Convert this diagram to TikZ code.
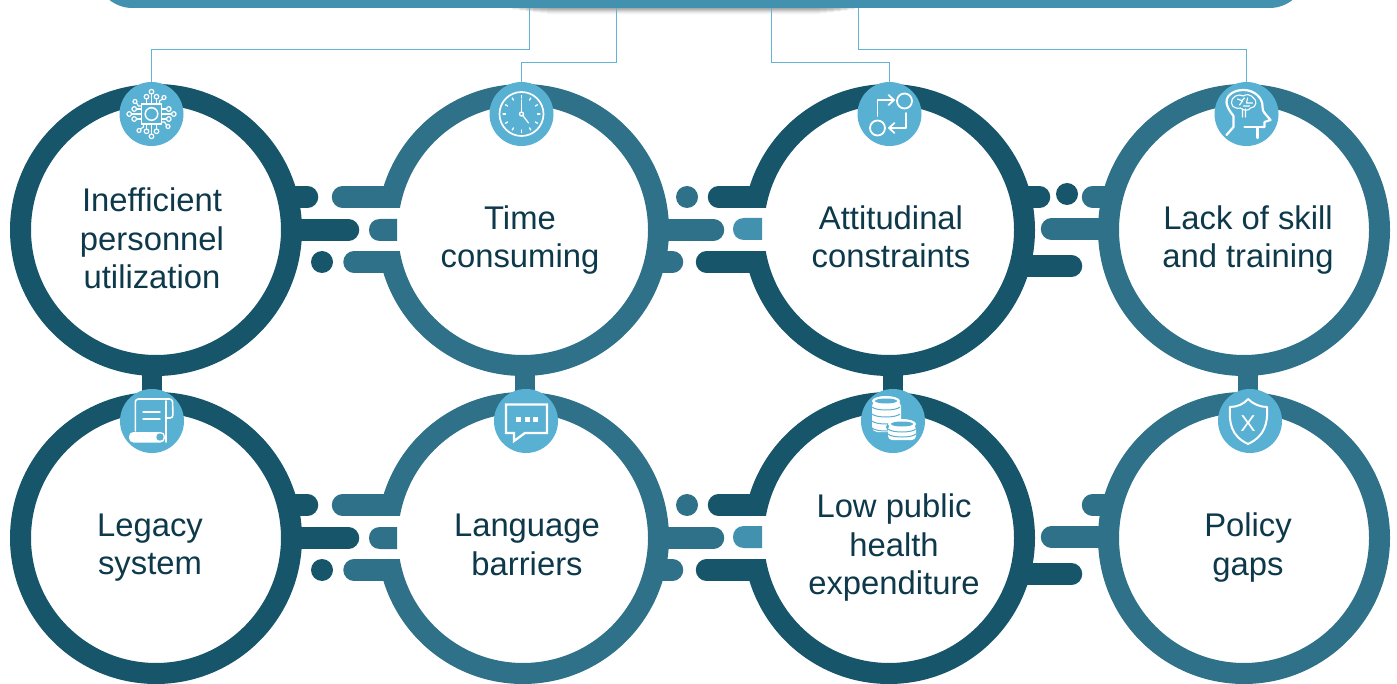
\documentclass[tikz,border=0pt]{standalone}
\usepackage{fontspec}
\setmainfont{Liberation Sans}
\usetikzlibrary{calc,backgrounds,arrows.meta}
\definecolor{dk}{HTML}{17556A}
\definecolor{md}{HTML}{2E7189}
\definecolor{lt}{HTML}{4291AE}
\definecolor{ic}{HTML}{58B0D3}
\definecolor{tx}{HTML}{0D394B}
\definecolor{cn}{HTML}{62B4D4}
\tikzset{
 ring/.style={circle,draw=#1,fill=white,line width=21pt,minimum size=271pt,inner sep=0pt,outer sep=0pt},
 icn/.style={circle,fill=ic,minimum size=64pt,inner sep=0pt,outer sep=0pt},
 lab/.style={text=tx,align=center,inner sep=0pt,font=\fontsize{32.8}{38.5}\selectfont},
 stub/.style={line width=21.5pt,line cap=round,draw=#1},
 vbar/.style={line width=20pt,draw=#1},
 conn/.style={draw=cn,line width=1pt},
 wl/.style={draw=white,line width=1.3pt,line cap=round,line join=round},
}
\begin{document}
\begin{tikzpicture}[x=1pt,y=-1pt]
\useasboundingbox (0,0) rectangle (1397,684);
% top bar
\begin{pgfonlayer}{background}
\foreach \i/\o in {0/.10,1/.09,2/.08,3/.06,4/.04,5/.03}{
  \fill[black,opacity=\o,rounded corners=2pt] ({512+7*\i},8) rectangle ({855-7*\i},{9.5+\i});
}
\end{pgfonlayer}
\node[fill=lt,rounded corners=37pt,minimum width=1211pt,minimum height=80pt,inner sep=0pt] (bar) at (701,-32) {};
\foreach \n/\x in {b1/529,b2/616,b3/771,b4/858}{\coordinate (\n) at (\x,8);}
% rings
\node[ring=dk] (c1) at (156,230) {};
\node[ring=md] (c2) at (523,230) {};
\node[ring=dk] (c3) at (889,230) {};
\node[ring=md] (c4) at (1244,230) {};
\node[ring=dk] (c5) at (156,538) {};
\node[ring=md] (c6) at (523,538) {};
\node[ring=dk] (c7) at (889,538) {};
\node[ring=md] (c8) at (1244,538) {};
% stubs, drawn behind the rings
\begin{pgfonlayer}{background}
 \foreach \a/\b/\cc/\s in {c1/c5/dk/-4,c2/c6/md/2,c3/c7/dk/4,c4/c8/md/4}{
   \draw[vbar=\cc] ($(\a)+(\s,0)$) -- ($(\b)+(\s,0)$);
 }
 \foreach \a/\bb/\cc/\dd in {c1/c2/c3/c4,c5/c6/c7/c8}{
   % first gap
   \draw[stub=dk] ($(\a)+(100,-33)$) -- ($(\a)+(151.5,-33)$);
   \draw[stub=dk] ($(\a)+(100,0)$) -- ($(\a)+(192.5,0)$);
   \draw[stub=md] ($(\bb)+(-110,-33)$) -- ($(\bb)+(-180.5,-33)$);
   \draw[stub=md] ($(\bb)+(-110,32)$) -- ($(\bb)+(-169,32)$);
   % second gap
   \draw[stub=md] ($(\bb)+(100,0)$) -- ($(\bb)+(190.5,0)$);
   \draw[stub=md] ($(\bb)+(100,32)$) -- ($(\bb)+(149.5,32)$);
   \draw[stub=dk] ($(\cc)+(-110,-33)$) -- ($(\cc)+(-170.5,-33)$);
   \draw[stub=dk] ($(\cc)+(-110,32)$) -- ($(\cc)+(-182.5,32)$);
   % third gap
   \draw[stub=dk] ($(\cc)+(100,36)$) -- ($(\cc)+(182.5,36)$);
   \draw[stub=md] ($(\dd)+(-110,-33)$) -- ($(\dd)+(-151.5,-33)$);
   \draw[stub=md] ($(\dd)+(-110,-1)$) -- ($(\dd)+(-192.5,-1)$);
 }
 \draw[stub=dk] ($(c3)+(100,-33)$) -- ($(c3)+(150.5,-33)$);
\end{pgfonlayer}
% breaks in the rings, free dots and D-shaped pieces
\foreach \y in {0,308}{
 \fill[white] (361,207.75+\y) rectangle (405,251.25+\y);
 \fill[white] (726,207.75+\y) rectangle (770,251.25+\y);
 \fill[dk] (322,262+\y) circle[radius=11];
 \fill[md] (687,197+\y) circle[radius=11];
 \fill[md] (397,219+\y) -- (380,219+\y) .. controls (373,219+\y) and (369,224+\y) .. (369,230+\y)
   .. controls (369,236+\y) and (373,241+\y) .. (380,241+\y) -- (397,241+\y) -- cycle;
 \fill[lt] (762,218+\y) -- (744,218+\y) .. controls (737,218+\y) and (733,223+\y) .. (733,229+\y)
   .. controls (733,235+\y) and (737,240+\y) .. (744,240+\y) -- (762,240+\y) -- cycle;
}
\fill[dk] (1067,194) circle[radius=11];
% labels
\node[lab] (t1) at (152,238.5) {Inefficient\\personnel\\utilization};
\node[lab] (t2) at (520,240) {Time\\consuming};
\node[lab] (t3) at (891,237) {Attitudinal\\constraints};
\node[lab] (t4) at (1248,240) {Lack of skill\\and training};
\node[lab] (t5) at (150,547.5) {Legacy\\system};
\node[lab] (t6) at (527,545) {Language\\barriers};
\node[lab] (t7) at (894,548) {Low public\\health\\expenditure};
\node[lab] (t8) at (1248,547.5) {Policy\\gaps};
% icon discs
\node[icn] (i1) at (151.5,114) {};
\node[icn] (i2) at (521.5,114) {};
\node[icn] (i3) at (889.5,114) {};
\node[icn] (i4) at (1246.5,114) {};
\node[icn] (i5) at (152,421) {};
\node[icn] (i6) at (526,421) {};
\node[icn] (i7) at (893,421) {};
\node[icn] (i8) at (1250,421) {};
% connectors
\draw[conn] (b1) -- ++(0,41.3) -| (i1);
\draw[conn] (b2) -- ++(0,54.7) -| (i2);
\draw[conn] (b3) -- ++(0,54.7) -| (i3);
\draw[conn] (b4) -- ++(0,41.3) -| (i4);
% chip
\begin{scope}[shift={(i1)},wl,line width=1.2pt]
 \draw[line width=1.5pt] (-10,-10) rectangle (10,10);
 \draw[line width=1.5pt] (0,0) circle[radius=6.3];
 \foreach \a in {0,90,180,270}{
  \begin{scope}[rotate=\a]
   \draw (0,-10) -- (0,-20); \draw (0,-22.3) circle[radius=2.3];
   \draw (-5,-10) -- (-5,-15); \draw (-5,-17.3) circle[radius=2.3];
   \draw (5,-10) -- (5,-15); \draw (5,-17.3) circle[radius=2.3];
   \draw (8,-10) -- (8,-13) -- (11,-15); \draw (12.5,-16.5) circle[radius=2];
  \end{scope}
 }
\end{scope}
% clock
\begin{scope}[shift={(i2)},wl]
 \draw[line width=1.7pt] (0,0) circle[radius=22];
 \foreach \a in {0,30,...,330}{\draw ($(\a:16)$) -- ($(\a:18.5)$);}
 \draw (0,0) circle[radius=2];
 \draw (0,-2) -- (0,-14);
 \draw (1.3,1.5) -- (7,9);
\end{scope}
% flow
\begin{scope}[shift={(i3)},wl,line width=1.8pt]
 \draw (15,-13) circle[radius=7.5];
 \draw (-12,14) circle[radius=7.5];
 \draw (-12,2) -- (-12,-14) -- (4,-14);
 \draw (-1,-19) -- (4.5,-14) -- (-1,-9);
 \draw (16.5,-1) -- (16.5,14) -- (0,14);
 \draw (5,9) -- (-0.5,14) -- (5,19);
\end{scope}
% head
\begin{scope}[shift={(i4)},wl,line width=2.2pt]
 \draw (-20,21) -- (-13,13) -- (-13,2) .. controls (-17,-3) and (-20,-8) .. (-20,-12)
   .. controls (-20,-20) and (-11,-24) .. (-3,-24)
   .. controls (8,-24) and (16,-16) .. (16,-8)
   .. controls (16,-4) and (17,-2) .. (18,-1) -- (24,6) -- (18,8) -- (18,13) -- (15,13);
 \draw (-2,13) -- (15,13) (11,13) -- (11,24);
 \draw[line width=1.1pt] (-3,-18) .. controls (-8,-21) and (-16,-17) .. (-15,-11)
   .. controls (-15,-6) and (-8,-5) .. (-6,-6)
   .. controls (-3,-3) and (2,-3) .. (4,-6)
   .. controls (10,-6) and (11,-14) .. (7,-16)
   .. controls (4,-20) and (-1,-20) .. (-3,-18);
 \draw[line width=1.1pt] (-9,-15) -- (-4,-13) -- (-7,-9) (1,-16) -- (0,-11) -- (6,-11) (-5,-13) -- (-2,-16) (3,-8) -- (-3,-8) (-4,-5) -- (-4,3) (-1,-5) -- (-1,3);
\end{scope}
% scroll
\begin{scope}[shift={(i5)},wl]
 \draw[line width=1.6pt,rounded corners=3pt] (-16.7,10) -- (-16.7,-22) -- (20.5,-22) -- (21,-3) -- (15,-3);
 \draw[line width=1.6pt] (14,-20) -- (14,21);
 \draw[line width=1.4pt] (-9,-9) -- (8,-9) (-9,-2) -- (8,-2);
 \fill[white,rounded corners=4.5pt] (-23,11) rectangle (13,21.5);
 \fill[ic] (8,16) circle[radius=3.7];
\end{scope}
% chat
\begin{scope}[shift={(i6)},wl,line width=2.3pt,line cap=butt,line join=miter]
 \draw (-1,12) -- (21,12) -- (21,-16.5) -- (-20,-16.5) -- (-20,12) -- (-12,12) -- (-12,20) -- cycle;
 \foreach \x in {-8,1,9.5}{\fill[white] (\x-2.5,-4.5) rectangle (\x+2.5,0.5);}
\end{scope}
% coins
\begin{scope}[shift={(i7)}]
 \fill[white,rounded corners=5pt] (-21,-20) rectangle (8,11);
 \fill[white] (-7,-20) ellipse[x radius=14,y radius=5];
 \foreach \y in {-14,-7,0,7}{\draw[ic,line width=1pt] (-21,\y) .. controls (-17,\y+4) and (3,\y+4) .. (7,\y);}
 \fill[ic] (-7,-20) ellipse[x radius=11,y radius=2.5];
 \fill[ic] (9,6) ellipse[x radius=16,y radius=7];
 \fill[white,rounded corners=4pt] (-5,4) rectangle (23,19);
 \fill[white] (9,3) ellipse[x radius=14,y radius=5];
 \fill[ic] (9,3) ellipse[x radius=11,y radius=2.5];
 \foreach \y in {8,13}{\draw[ic,line width=1pt] (-5,\y) .. controls (-1,\y+4) and (19,\y+4) .. (23,\y);}
\end{scope}
% shield
\begin{scope}[shift={(i8)},wl,line width=2pt]
 \draw (-2,-22) .. controls (3,-17) and (10,-14) .. (17,-14)
   .. controls (18,2) and (15,15) .. (-2,23)
   .. controls (-19,15) and (-21,2) .. (-20,-14)
   .. controls (-13,-14) and (-6,-17) .. (-2,-22) -- cycle;
 \node[text=white,inner sep=0pt,font=\fontsize{23}{23}\selectfont] (x8) at (-2,2.5) {X};
\end{scope}
\end{tikzpicture}
\end{document}
